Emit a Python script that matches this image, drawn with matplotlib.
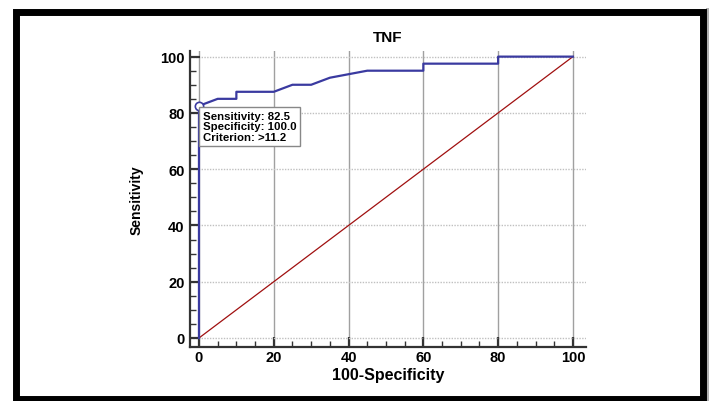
import matplotlib
matplotlib.use("Agg")
import matplotlib.pyplot as plt
from matplotlib.patches import Rectangle
from matplotlib.ticker import MultipleLocator

plt.rcParams['font.family'] = ['Liberation Sans', 'DejaVu Sans']

# ROC curve (100-Specificity, Sensitivity)
fpr = [0, 0, 5, 10, 10, 20, 25, 30, 35, 45, 60, 60, 80, 80, 100]
tpr = [0, 82.5, 85, 85, 87.5, 87.5, 90, 90, 92.5, 95, 95, 97.5, 97.5, 100, 100]
ref_x = [0, 100]
ref_y = [0, 100]
opt_point = (0, 82.5)
annotation = ["Sensitivity: 82.5", "Specificity: 100.0", "Criterion: >11.2"]
ticks = [0, 20, 40, 60, 80, 100]

W, H = 713, 402
fig = plt.figure(figsize=(W / 100, H / 100), dpi=100)

# outer frame
fig.patches.append(Rectangle((706 / W, 0), 3 / W, 1 - 9 / H, transform=fig.transFigure,
                             facecolor='#b0b0b0', edgecolor='none'))
fig.patches.append(Rectangle((15.5 / W, 1 - 399.5 / H), (703 - 15.5) / W, (399.5 - 12.5) / H,
                             transform=fig.transFigure, facecolor='none',
                             edgecolor='black', linewidth=5))

ax = fig.add_axes([190 / W, 1 - 348 / H, (586 - 190) / W, (348 - 52) / H])
ax.set_xlim(-2.4, 103.5)
ax.set_ylim(-3.2, 102)

for s in ['top', 'right']:
    ax.spines[s].set_visible(False)
for s in ['left', 'bottom']:
    ax.spines[s].set_color('#333333')
    ax.spines[s].set_linewidth(1.6)

ax.set_xticks(ticks)
ax.set_yticks(ticks)
ax.xaxis.set_minor_locator(MultipleLocator(5))
ax.yaxis.set_minor_locator(MultipleLocator(5))
ax.tick_params(which='major', direction='in', length=7, width=1.6, color='#333333',
               labelsize=10.5, pad=4)
ax.tick_params(which='minor', direction='in', length=4, width=1, color='#333333')
ax.tick_params(axis='x', pad=2.5)
for lab in ax.get_xticklabels() + ax.get_yticklabels():
    lab.set_fontweight('bold')

ax.grid(axis='x', which='major', color='#a0a0a0', linewidth=1, linestyle='-')
ax.grid(axis='y', which='major', color='#c0c0c0', linewidth=1, linestyle=(0, (1, 1)))
ax.set_axisbelow(True)

ax.plot(ref_x, ref_y, color='#a01010', linewidth=0.9, zorder=3)
ax.plot(fpr, tpr, color='#3a3aa0', linewidth=1.6, zorder=4, clip_on=False)
ax.plot([opt_point[0]], [opt_point[1]], marker='o', markersize=6, markerfacecolor='white',
        markeredgecolor='#3a3aa0', markeredgewidth=1.2, zorder=5, clip_on=False)
ax.text(1.0, 80.8, "\n".join(annotation), fontsize=8.2, fontweight='bold', va='top', ha='left',
        linespacing=1.1, zorder=6,
        bbox=dict(boxstyle='square,pad=0.3', facecolor='white', edgecolor='#888888', linewidth=1))

ax.set_title("TNF", fontsize=11, fontweight='bold', pad=7)
ax.set_xlabel("100-Specificity", fontsize=11.5, fontweight='bold', labelpad=2)
ax.set_ylabel("Sensitivity", fontsize=10, fontweight='bold', labelpad=12)

fig.savefig("out.png", dpi=100)
